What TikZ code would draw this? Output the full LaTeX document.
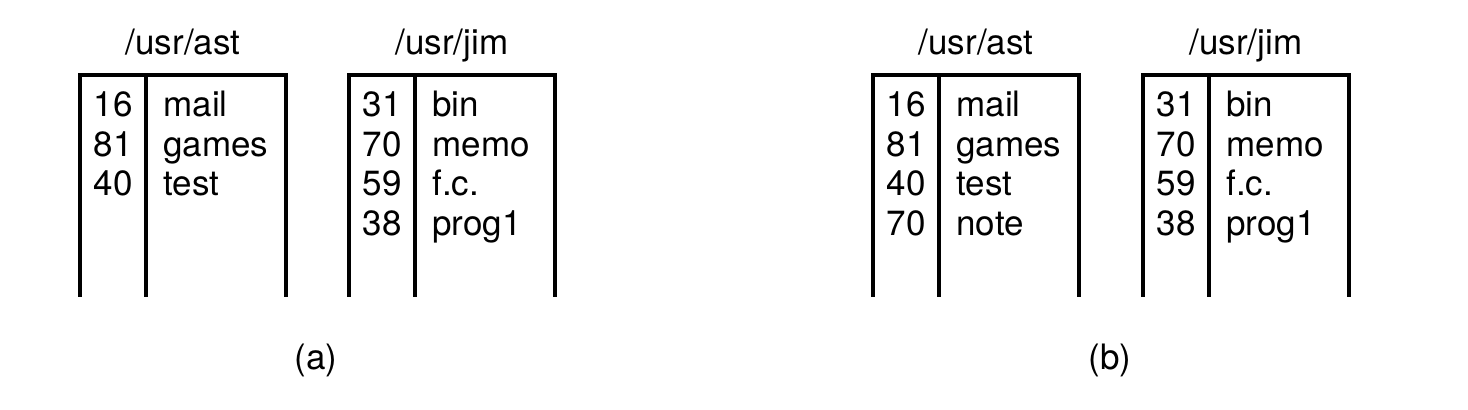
\documentclass[tikz,border=0pt]{standalone}
\usepackage{fontspec}
\setmainfont{TeX Gyre Heros}
\usepackage{tikz}
\tikzset{
  dirline/.style={line width=1.6pt},
  dirtext/.style={anchor=base,inner sep=0pt,font=\fontsize{17.5}{20}\selectfont},
  dirnum/.style={dirtext,anchor=base east},
  dirname/.style={dirtext,anchor=base west},
}
% one directory: #1 name, #2 left x, #3 title, #4 entries num/name
\newcommand{\dirbox}[4]{
  \draw[dirline] (#2,297) -- (#2,75) -- (#2+206,75) -- (#2+206,297);
  \draw[dirline] (#2+66,75) -- (#2+66,297);% Divider between i-node and name
  \node[dirtext] (#1-title) at (#2+103,55) {#3};
  \foreach \n/\f [count=\i] in {#4}{
    \node[dirnum] (#1-n\i) at (#2+53,117+39.5*\i-39.5) {\n};
    \node[dirname] (#1-f\i) at (#2+83,117+39.5*\i-39.5) {\f};
  }
}

\begin{document}
\begin{tikzpicture}[x=0.5pt,y=-0.5pt]
  \useasboundingbox (0,0) rectangle (1468,410);

  \dirbox{a-ast}{80}{/usr/ast}{16/mail,81/games,40/test}
  \dirbox{a-jim}{349}{/usr/jim}{31/bin,70/memo,59/f.c.,38/prog1}
  \node[dirtext] (cap-a) at (316,370) {(a)};

  \dirbox{b-ast}{873}{/usr/ast}{16/mail,81/games,40/test,70/note}
  \dirbox{b-jim}{1143}{/usr/jim}{31/bin,70/memo,59/f.c.,38/prog1}
  \node[dirtext] (cap-b) at (1110,370) {(b)};
\end{tikzpicture}
\end{document}
